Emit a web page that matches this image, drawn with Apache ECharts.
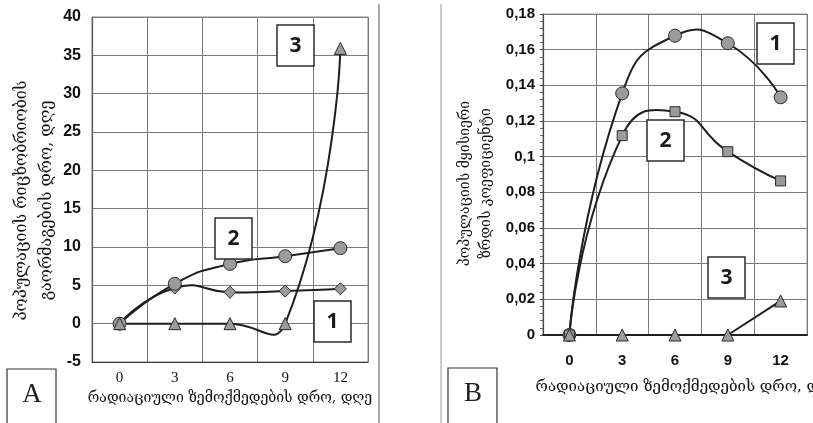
<!DOCTYPE html>
<html>
<head>
<meta charset="utf-8">
<script src="https://cdn.jsdelivr.net/npm/echarts@6/dist/echarts.min.js"></script>
<style>
html, body { margin: 0; padding: 0; background: #fff; }
#chart { width: 813px; height: 423px; }
</style>
</head>
<body>
<div id="chart"></div>
<script>
// Exposure time categories, days
const days = ['0', '3', '6', '9', '12'];

// Panel A: population doubling time, days
const doublingS1 = [0, 4.65, 4.1, 4.25, 4.55];
const doublingS2 = [0, 5.2, 7.8, 8.8, 9.85];
const doublingS3 = [0, 0, 0, 0, 35.9];

// Panel B: instantaneous growth coefficient
const growthS1 = [0, 0.1355, 0.1678, 0.1636, 0.1333];
const growthS2 = [0, 0.1118, 0.1252, 0.1028, 0.0864];
const growthS3 = [0, 0, 0, 0, 0.0191];

// Value axis ranges
const axisA = { min: -5, max: 40, step: 5 };
const axisB = { min: 0, max: 0.18, step: 0.02 };

// Texts
const xTitle = 'რადიაციული ზემოქმედების დრო, დღე';
const yTitleA = ['პოპულაციის რიცხობრიობის', 'გაორმაგების დრო, დღე'];
const yTitleB = ['პოპულაციის მყისიერი', 'ზრდის კოეფიციენტი'];
const seriesTags = ['1', '2', '3'];
const panelTags = ['A', 'B'];

const geoFont = '"DejaVu Serif", "DejaVu Sans", serif';
const lineColor = '#1e1e1e';
const markFill = '#9b9b9b';
const gridColor = '#7a7a7a';
const SMOOTH = 0.55;

// Control points around point i of a pixel polyline (cardinal-style, segment-length weighted)
function controls(pts, i) {
  const p = pts[i];
  const prev = pts[i - 1], next = pts[i + 1];
  if (!prev || !next) return { before: p, after: p };
  const vx = next[0] - prev[0], vy = next[1] - prev[1];
  const lp = Math.hypot(p[0] - prev[0], p[1] - prev[1]);
  const ln = Math.hypot(next[0] - p[0], next[1] - p[1]);
  const r = ln / (ln + lp);
  return {
    before: [p[0] - vx * SMOOTH * (1 - r), p[1] - vy * SMOOTH * (1 - r)],
    after: [p[0] + vx * SMOOTH * r, p[1] + vy * SMOOTH * r]
  };
}

// Smooth curve drawn through the axis scales of the given grid
function curveSeries(values, axisIdx) {
  return {
    type: 'custom',
    xAxisIndex: axisIdx,
    yAxisIndex: axisIdx,
    data: values.map((v, i) => [i, v]),
    encode: { x: 0, y: 1 },
    silent: true,
    z: 2,
    renderItem: function (params, api) {
      if (params.dataIndex !== 0) return { type: 'group', children: [] };
      const pts = values.map((v, i) => api.coord([i, v]));
      const ctl = pts.map((_, i) => controls(pts, i));
      const children = [];
      for (let i = 1; i < pts.length; i++) {
        const a = pts[i - 1], b = pts[i];
        const c1 = ctl[i - 1].after, c2 = ctl[i].before;
        children.push({
          type: 'bezierCurve',
          shape: { x1: a[0], y1: a[1], x2: b[0], y2: b[1], cpx1: c1[0], cpy1: c1[1], cpx2: c2[0], cpy2: c2[1] },
          style: { stroke: lineColor, lineWidth: 2, fill: null }
        });
      }
      return { type: 'group', children: children };
    }
  };
}

// Markers (and optionally a straight connecting line)
function markerSeries(data, axisIdx, symbol, size, drawLine) {
  return {
    type: 'line',
    xAxisIndex: axisIdx,
    yAxisIndex: axisIdx,
    data: data,
    symbol: symbol,
    symbolSize: size,
    showAllSymbol: true,
    lineStyle: drawLine ? { color: lineColor, width: 2 } : { opacity: 0 },
    itemStyle: { color: markFill, borderColor: '#2a2a2a', borderWidth: 1 },
    emphasis: { disabled: true },
    silent: true,
    z: 3
  };
}

function tagBox(x, y, text) {
  return [
    { type: 'rect', shape: { x: x, y: y, width: 37, height: 41 },
      style: { fill: '#fff', stroke: '#2b2b2b', lineWidth: 1.5 }, z: 10 },
    { type: 'text', x: x + 18.5, y: y + 21, z: 11,
      style: { text: text, fill: '#1a1a1a', font: 'bold 21px "Open Sans", "Liberation Sans", sans-serif',
               align: 'center', verticalAlign: 'middle' } }
  ];
}

function panelBox(x, y, text) {
  return [
    { type: 'rect', shape: { x: x, y: y, width: 49, height: 70 },
      style: { fill: '#fff', stroke: '#333', lineWidth: 1.2 }, z: 10 },
    { type: 'text', x: x + 25, y: y + 26, z: 11,
      style: { text: text, fill: '#222', font: '27px "Liberation Serif", "DejaVu Serif", serif',
               align: 'center', verticalAlign: 'middle' } }
  ];
}

const fmtB = v => String(Math.round(v * 100) / 100).replace('.', ',');

const option = {
  backgroundColor: '#fff',
  animation: false,
  grid: [
    { left: 92, top: 17, width: 276, height: 345, show: true, borderColor: '#8a8a8a', borderWidth: 1,
      outerBoundsMode: 'none', containLabel: false },
    { left: 543, top: 14, width: 264, height: 321, show: true, borderColor: '#9a9a9a', borderWidth: 1,
      outerBoundsMode: 'none', containLabel: false }
  ],
  xAxis: [
    {
      gridIndex: 0, type: 'category', data: days, boundaryGap: true,
      axisLine: { onZero: false, lineStyle: { color: '#333', width: 1.2 } },
      axisTick: { show: false },
      splitLine: { show: true, lineStyle: { color: gridColor, width: 1 } },
      axisLabel: { margin: 9, color: '#111', fontSize: 15, fontFamily: '"Liberation Serif", serif' },
      name: xTitle, nameLocation: 'middle', nameGap: 28,
      nameTextStyle: { color: '#111', fontSize: 14, fontFamily: geoFont }
    },
    {
      gridIndex: 1, type: 'category', data: days, boundaryGap: true,
      axisLine: { onZero: false, lineStyle: { color: '#222', width: 2 } },
      axisTick: { show: false },
      splitLine: { show: true, lineStyle: { color: gridColor, width: 1 } },
      axisLabel: { margin: 18, color: '#111', fontSize: 15, fontWeight: 'bold', fontFamily: '"Liberation Sans", Arial, sans-serif' },
      name: xTitle, nameLocation: 'middle', nameGap: 45,
      nameTextStyle: { color: '#111', fontSize: 15, fontFamily: geoFont, padding: [0, 0, 0, 26] }
    }
  ],
  yAxis: [
    {
      gridIndex: 0, type: 'value', min: axisA.min, max: axisA.max, interval: axisA.step,
      axisLine: { show: true, lineStyle: { color: '#555', width: 1.2 } },
      axisTick: { show: false },
      splitLine: { show: true, lineStyle: { color: gridColor, width: 1 } },
      axisLabel: { margin: 11, color: '#111', fontSize: 16, fontWeight: 'bold', fontFamily: '"Liberation Sans", Arial, sans-serif' },
      name: yTitleA.join('\n'), nameLocation: 'middle', nameRotate: 90, nameGap: 32,
      nameTextStyle: { color: '#111', fontSize: 16, lineHeight: 25, fontFamily: geoFont, padding: [0, 22, 0, 0] }
    },
    {
      gridIndex: 1, type: 'value', min: axisB.min, max: axisB.max, interval: axisB.step,
      axisLine: { show: true, lineStyle: { color: '#444', width: 1.2 } },
      axisTick: { show: true, inside: false, length: 3, lineStyle: { color: '#444' } },
      minorTick: { show: true, splitNumber: 5, length: 3, lineStyle: { color: '#666' } },
      splitLine: { show: true, lineStyle: { color: gridColor, width: 1 } },
      axisLabel: { margin: 8, color: '#111', fontSize: 15, fontWeight: 'bold', fontFamily: '"Liberation Sans", Arial, sans-serif',
                   formatter: fmtB },
      name: yTitleB.join('\n'), nameLocation: 'middle', nameRotate: 90, nameGap: 46,
      nameTextStyle: { color: '#111', fontSize: 14, lineHeight: 21, fontFamily: geoFont, padding: [0, 18, 0, 0] }
    }
  ],
  series: [
    curveSeries(doublingS1, 0),
    curveSeries(doublingS2, 0),
    curveSeries(doublingS3, 0),
    markerSeries(doublingS1, 0, 'diamond', 12, false),
    markerSeries(doublingS2, 0, 'circle', 13, false),
    markerSeries(doublingS3, 0, 'triangle', 12, false),
    curveSeries(growthS1, 1),
    curveSeries(growthS2, 1),
    markerSeries(growthS1, 1, 'circle', 13, false),
    markerSeries(growthS2, 1, 'rect', 10, false),
    markerSeries(growthS3, 1, 'triangle', 12, true)
  ],
  graphic: [
    { type: 'line', shape: { x1: 379, y1: 4, x2: 379, y2: 423 }, style: { stroke: '#aaa', lineWidth: 2 } },
    { type: 'line', shape: { x1: 441, y1: 4, x2: 441, y2: 423 }, style: { stroke: '#999', lineWidth: 1 } }
  ].concat(
    tagBox(277, 25, seriesTags[2]),
    tagBox(215, 218, seriesTags[1]),
    tagBox(314, 301, seriesTags[0]),
    tagBox(757, 23, seriesTags[0]),
    tagBox(647, 120, seriesTags[1]),
    tagBox(708, 257, seriesTags[2]),
    panelBox(7, 369, panelTags[0]),
    panelBox(448, 368, panelTags[1])
  )
};

const chart = echarts.init(document.getElementById('chart'), null, { renderer: 'canvas' });
chart.setOption(option);
</script>
</body>
</html>
